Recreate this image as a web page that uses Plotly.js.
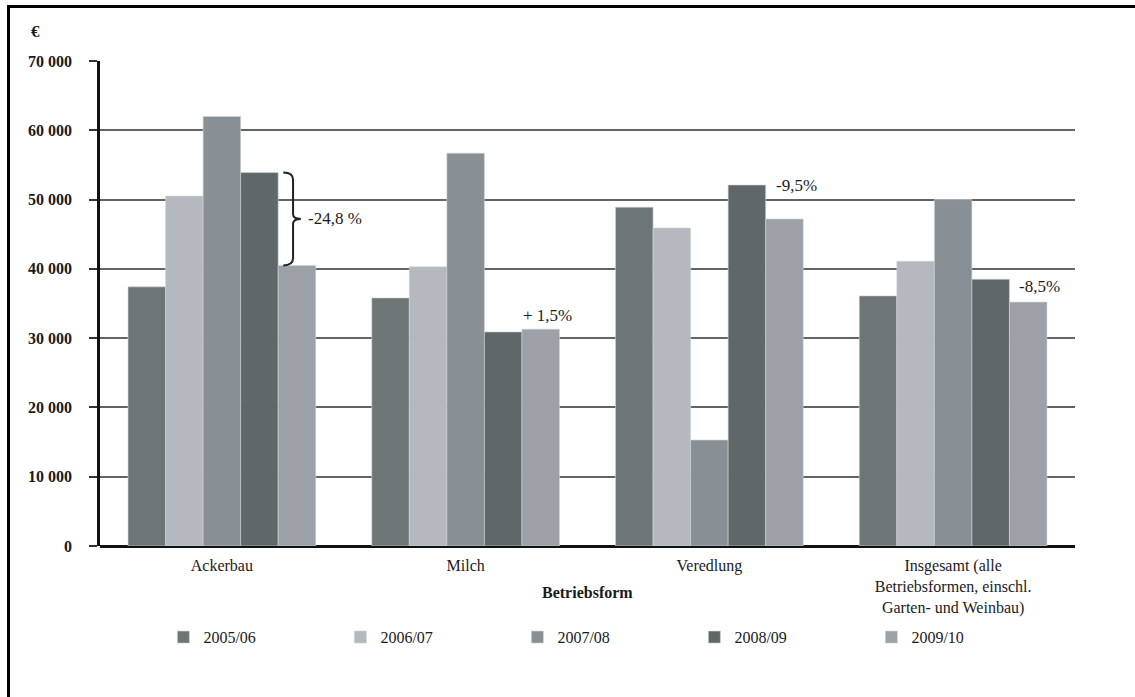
<!DOCTYPE html>
<html>
<head>
<meta charset="utf-8">
<script src="https://cdn.plot.ly/plotly-3.0.1.min.js"></script>
<style>
  html, body { margin: 0; padding: 0; background: #fff; }
  #wrap { position: relative; width: 1135px; height: 697px; }
  #chart { position: absolute; left: 0; top: 0; width: 1135px; height: 697px; }
  #frame { position: absolute; left: 7px; top: 5px; right: -10px; bottom: -10px;
           border-left: 3px solid #000; border-top: 3px solid #000; pointer-events: none; }
</style>
</head>
<body>
<div id="wrap">
  <div id="chart"></div>
  <div id="frame"></div>
</div>
<script>
const categories = ["Ackerbau", "Milch", "Veredlung",
  "Insgesamt (alle<br>Betriebsformen, einschl.<br>Garten- und Weinbau)"];
const seriesNames = ["2005/06", "2006/07", "2007/08", "2008/09", "2009/10"];
const v2005_06 = [37400, 35800, 48900, 36100];
const v2006_07 = [50500, 40300, 45900, 41100];
const v2007_08 = [62000, 56700, 15300, 50000];
const v2008_09 = [53900, 30900, 52100, 38500];
const v2009_10 = [40500, 31300, 47200, 35200];
const changeLabels = ["-24,8 %", "+ 1,5%", "-9,5%", "-8,5%"];
const yTicks = [0, 10000, 20000, 30000, 40000, 50000, 60000, 70000];

const seriesValues = [v2005_06, v2006_07, v2007_08, v2008_09, v2009_10];
const colors = ["#6e7577", "#b4b9c0", "#889096", "#5f6769", "#9ba1a7"];

const serif = "Liberation Serif, Times New Roman, serif";

const traces = seriesNames.map((name, i) => ({
  type: "bar",
  name: name,
  x: categories,
  y: seriesValues[i],
  marker: { color: colors[i], line: { width: 0.6, color: "#d0d3d6" } },
  hoverinfo: "x+y+name"
}));

// brace for Ackerbau (2008/09 -> 2009/10)
const yTop = v2008_09[0], yBot = v2009_10[0];
const ym = (yTop + yBot) / 2;
const c = 700;
const bx0 = 0.188, bx1 = 0.198, bx2 = 0.206;
const bracePath = `M ${bx0},${yTop} Q ${bx1},${yTop} ${bx1},${yTop - 1.5 * c} L ${bx1},${ym + c} Q ${bx1},${ym} ${bx2},${ym} Q ${bx1},${ym} ${bx1},${ym - c} L ${bx1},${yBot + 1.5 * c} Q ${bx1},${yBot} ${bx0},${yBot}`;

const annFont = { family: serif, size: 17, color: "#1a1a1a" };

const layout = {
  width: 1135, height: 697,
  margin: { l: 100, r: 60, t: 61, b: 151, autoexpand: false },
  paper_bgcolor: "#ffffff", plot_bgcolor: "#ffffff",
  separators: ", ",
  barmode: "group",
  bargap: 0.23,
  bargroupgap: 0,
  font: { family: serif, size: 16, color: "#1a1a1a" },
  xaxis: {
    type: "category",
    showgrid: false,
    showline: false,
    ticks: "",
    tickfont: { family: serif, size: 16, color: "#1a1a1a" },
    ticklabelstandoff: 8,
    zeroline: false
  },
  yaxis: {
    range: [0, 70000],
    tickvals: yTicks,
    tickformat: ",d",
    showgrid: true,
    gridcolor: "#636363",
    gridwidth: 2,
    showline: true,
    linecolor: "#111",
    linewidth: 2.5,
    ticks: "outside",
    ticklen: 8,
    tickwidth: 2,
    tickcolor: "#333",
    ticklabelstandoff: 14,
    tickfont: { family: serif, size: 16, color: "#1a1a1a", weight: "bold" },
    zeroline: true,
    zerolinecolor: "#111",
    zerolinewidth: 3,
    fixedrange: true
  },
  legend: {
    orientation: "h",
    x: 0.065, xanchor: "left",
    y: -0.188, yanchor: "middle",
    entrywidth: 132,
    entrywidthmode: "pixels",
    itemwidth: 30,
    bgcolor: "rgba(0,0,0,0)",
    font: { family: serif, size: 16, color: "#1a1a1a" },
    traceorder: "normal"
  },
  shapes: [
    { type: "path", xref: "paper", yref: "y", path: bracePath,
      line: { color: "#222", width: 2 } }
  ],
  annotations: [
    { xref: "paper", yref: "paper", x: -0.073, y: 1.06, xanchor: "left", yanchor: "middle",
      text: "€", showarrow: false, font: { family: serif, size: 17, color: "#1a1a1a", weight: "bold" } },
    { xref: "paper", yref: "paper", x: 0.5, y: -0.075, xanchor: "center", yanchor: "top",
      text: "<b>Betriebsform</b>", showarrow: false, font: { family: serif, size: 16, color: "#1a1a1a" } },
    { xref: "paper", yref: "y", x: 0.211, y: ym, xanchor: "left", yanchor: "middle",
      text: changeLabels[0], showarrow: false, font: annFont },
    { xref: "x", yref: "y", x: 1.335, y: v2009_10[1], xanchor: "center", yanchor: "bottom", yshift: 2,
      text: changeLabels[1], showarrow: false, font: annFont },
    { xref: "x", yref: "y", x: 2.265, y: v2008_09[2], xanchor: "left", yanchor: "middle",
      text: changeLabels[2], showarrow: false, font: annFont },
    { xref: "x", yref: "y", x: 3.262, y: v2009_10[3], xanchor: "left", yanchor: "bottom", yshift: 4,
      text: changeLabels[3], showarrow: false, font: annFont }
  ]
};

Plotly.newPlot("chart", traces, layout, { displayModeBar: false, staticPlot: false, responsive: false });
</script>
</body>
</html>
